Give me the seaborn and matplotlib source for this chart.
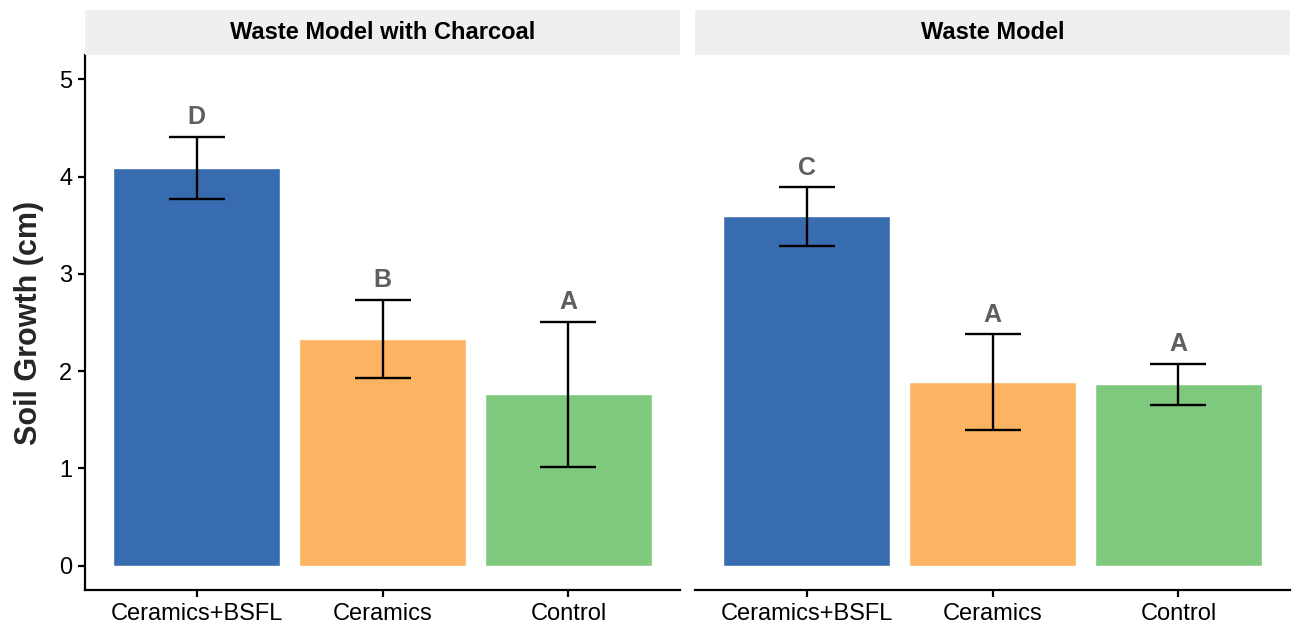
import numpy as np
import pandas as pd
import seaborn as sns
import matplotlib.pyplot as plt

# Treatment groups and facet panels
treatments = ["Ceramics+BSFL", "Ceramics", "Control"]
panels = ["Waste Model with Charcoal", "Waste Model"]

# Mean soil growth (cm) and standard errors per panel
means_charcoal = [4.09, 2.33, 1.76]
se_charcoal = [0.32, 0.40, 0.75]
letters_charcoal = ["D", "B", "A"]

means_waste = [3.59, 1.885, 1.865]
se_waste = [0.30, 0.495, 0.21]
letters_waste = ["C", "A", "A"]

bar_colors = ["#386CB0", "#FDB462", "#7FC97F"]

sns.set_theme(style="white")
plt.rcParams["font.family"] = ["Liberation Sans", "DejaVu Sans"]

W, H = 1293, 628
fig = plt.figure(figsize=(W / 100, H / 100), dpi=100)

panel_data = [
    (panels[0], means_charcoal, se_charcoal, letters_charcoal, 85),
    (panels[1], means_waste, se_waste, letters_waste, 695),
]

ax_top_px, ax_bot_px = 55, 590
strip_top_px = 10
panel_w_px = 595

for idx, (title, means, ses, letters, left_px) in enumerate(panel_data):
    ax = fig.add_axes([left_px / W, 1 - ax_bot_px / H,
                       panel_w_px / W, (ax_bot_px - ax_top_px) / H])
    df = pd.DataFrame({"treatment": treatments, "growth": means})
    sns.barplot(data=df, x="treatment", y="growth", hue="treatment",
                palette=bar_colors, order=treatments, hue_order=treatments,
                width=0.9, saturation=1, errorbar=None, legend=False, ax=ax)
    xs = np.arange(len(treatments))
    ax.errorbar(xs, means, yerr=ses, fmt="none", ecolor="black",
                elinewidth=1.7, capsize=20, capthick=1.7, zorder=5)
    for x, m, s, lab in zip(xs, means, ses, letters):
        ax.text(x, m + s + 0.13, lab, ha="center", va="baseline",
                fontsize=18, fontweight="bold", color="#5F5F5F")

    ax.set_xlim(-0.6, 2.6)
    ax.set_ylim(-0.25, 5.25)
    ax.set_xlabel("")
    ax.set_facecolor("white")
    for side in ["top", "right"]:
        ax.spines[side].set_visible(False)
    ax.spines["bottom"].set_color("black")
    ax.spines["bottom"].set_linewidth(1.6)
    ax.tick_params(axis="x", length=5, width=1.6, color="black",
                   labelsize=17, labelcolor="black", pad=4, bottom=True)
    if idx == 0:
        ax.spines["left"].set_color("black")
        ax.spines["left"].set_linewidth(1.6)
        ax.set_yticks([0, 1, 2, 3, 4, 5])
        ax.tick_params(axis="y", length=5, width=1.6, color="black",
                       labelsize=17, labelcolor="black", pad=4, left=True)
        ax.set_ylabel("Soil Growth (cm)", fontsize=22, fontweight="bold",
                      labelpad=11)
    else:
        ax.spines["left"].set_visible(False)
        ax.set_yticks([])
        ax.set_ylabel("")

    # facet strip
    sax = fig.add_axes([left_px / W, 1 - ax_top_px / H,
                        panel_w_px / W, (ax_top_px - strip_top_px) / H])
    sax.set_facecolor("#EFEFEF")
    sax.set_xticks([])
    sax.set_yticks([])
    for sp in sax.spines.values():
        sp.set_visible(False)
    sax.text(0.5, 0.5, title, ha="center", va="center", fontsize=17,
             fontweight="bold", color="black", transform=sax.transAxes)

fig.savefig("out.png", dpi=100, facecolor="white")
